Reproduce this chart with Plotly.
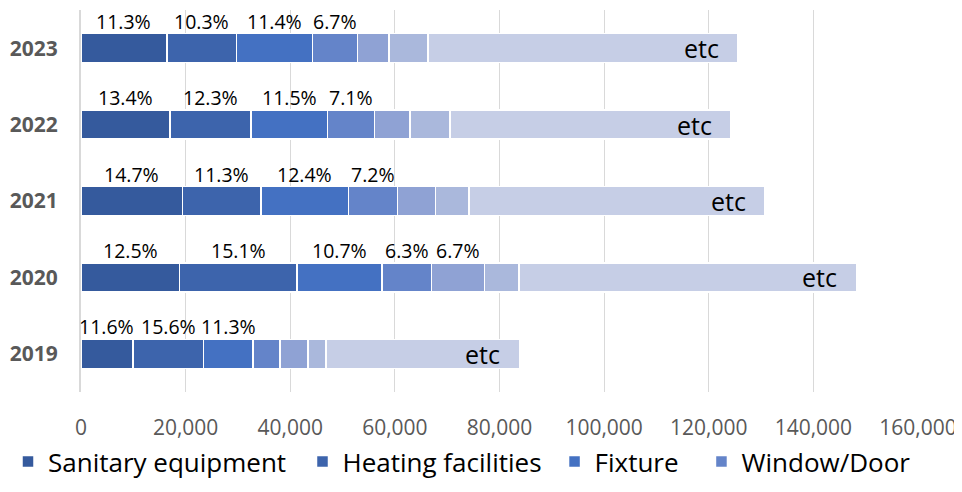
import plotly.graph_objects as go

years = ["2019", "2020", "2021", "2022", "2023"]
series_names = ["Sanitary equipment", "Heating facilities", "Fixture", "Window/Door",
                "Segment 5", "Segment 6", "etc"]
show_in_legend = [True, True, True, True, False, False, False]
colors = ["#355A9D", "#3D64AC", "#4471C2", "#6484C9", "#8FA2D4", "#AAB8DC", "#C6CEE6"]

# values per series (2019..2023)
sanitary = [9900, 18800, 19400, 17000, 16400]
heating = [13500, 22500, 15000, 15500, 13300]
fixture = [9500, 16200, 16700, 14600, 14600]
window_door = [5100, 9500, 9400, 9000, 8600]
segment5 = [5400, 10100, 7300, 6800, 6000]
segment6 = [3400, 6600, 6400, 7600, 7400]
etc_vals = [37000, 64500, 56500, 53800, 59300]

series_values = [sanitary, heating, fixture, window_door, segment5, segment6, etc_vals]

pct_labels = {
    "2019": ["11.6%", "15.6%", "11.3%"],
    "2020": ["12.5%", "15.1%", "10.7%", "6.3%", "6.7%"],
    "2021": ["14.7%", "11.3%", "12.4%", "7.2%"],
    "2022": ["13.4%", "12.3%", "11.5%", "7.1%"],
    "2023": ["11.3%", "10.3%", "11.4%", "6.7%"],
}

x_ticks = [0, 20000, 40000, 60000, 80000, 100000, 120000, 140000, 160000]

FONT = "Open Sans"
legend_ids = ["legend", "legend2", "legend3", "legend4", "legend", "legend", "legend"]
legend_x = [0.0, 0.3087, 0.5729, 0.7269]

fig = go.Figure()
for name, vals, col, sl, lg in zip(series_names, series_values, colors, show_in_legend, legend_ids):
    fig.add_trace(go.Bar(
        y=years, x=vals, name=name, orientation="h",
        marker=dict(color=col, line=dict(color="white", width=1.5)),
        showlegend=sl, legend=lg,
    ))

annotations = []
for i, yr in enumerate(years):
    cum = 0
    starts = []
    for vals in series_values:
        starts.append((cum, cum + vals[i]))
        cum += vals[i]
    for j, lab in enumerate(pct_labels[yr]):
        a, b = starts[j]
        annotations.append(dict(
            x=(a + b) / 2, y=i, text=lab, showarrow=False,
            xanchor="center", yanchor="middle", yshift=27,
            font=dict(family=FONT, size=19.5, color="#000000"),
        ))
    annotations.append(dict(
        x=cum, y=i, text="etc", showarrow=False,
        xanchor="right", yanchor="middle", xshift=-17,
        font=dict(family=FONT, size=25, color="#000000"),
    ))

legend_common = dict(
    orientation="h", xanchor="left", y=0.1116, yanchor="top",
    xref="container", yref="container",
    font=dict(family=FONT, size=26, color="#000000"),
    bgcolor="rgba(0,0,0,0)",
)
fig.update_layout(
    barmode="stack",
    width=954, height=484,
    margin=dict(l=73, r=44, t=2, b=100, autoexpand=False),
    paper_bgcolor="white", plot_bgcolor="white",
    bargap=0.62,
    font=dict(family=FONT),
    annotations=annotations,
    legend=dict(x=legend_x[0], **legend_common),
    legend2=dict(x=legend_x[1], **legend_common),
    legend3=dict(x=legend_x[2], **legend_common),
    legend4=dict(x=legend_x[3], **legend_common),
    showlegend=True,
)
fig.update_xaxes(
    range=[0, 160000], tickvals=x_ticks, tickformat=",",
    showgrid=True, gridcolor="#D9D9D9", gridwidth=1,
    zeroline=False, showline=False, automargin=False,
    ticks="outside", ticklen=17, tickcolor="rgba(0,0,0,0)",
    tickfont=dict(family=FONT, size=21, color="#595959"),
)
fig.update_yaxes(
    type="category", categoryorder="array", categoryarray=years,
    range=[-0.5, len(years) - 0.5],
    showgrid=False, showline=True, linecolor="#D9D9D9", linewidth=2,
    automargin=False,
    ticks="outside", ticklen=17, tickcolor="rgba(0,0,0,0)",
    tickfont=dict(family=FONT, size=21, color="#595959", weight="bold"),
)

fig.write_html("out.html")
